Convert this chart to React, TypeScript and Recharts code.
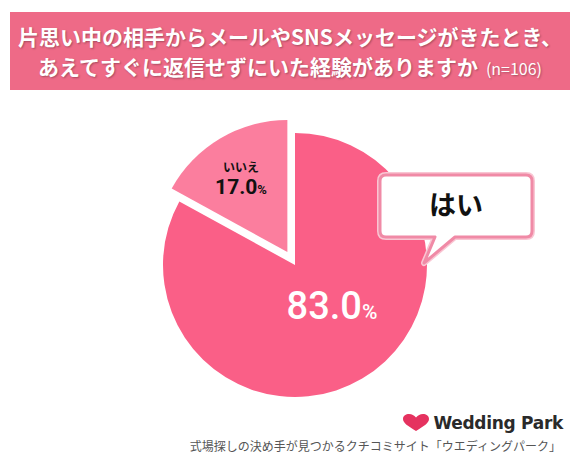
import { PieChart, Pie, Cell } from "recharts";

const categories = ["はい", "いいえ"];
const values = [83.0, 17.0];
const sampleSize = 106;
const titleLines = [
  "片思い中の相手からメールやSNSメッセージがきたとき、",
  "あえてすぐに返信せずにいた経験がありますか",
];
const footerText = "式場探しの決め手が見つかるクチコミサイト「ウエディングパーク」";

const YES_COLOR = "#fa5f87";
const NO_COLOR = "#fb7e9e";
const BANNER = "#ee6a87";
const FONT = "'Noto Sans CJK JP', 'Noto Sans', sans-serif";

const data = categories.map((name, i) => ({ name, value: values[i] }));

const CX = 290;
const CY = 260;
const R = 132;
const EXPLODE = 15;

// small slice is pulled out along its mid angle
const noMid = ((90 + (90 + (values[1] / 100) * 360)) / 2) * (Math.PI / 180);
const NO_CX = CX + EXPLODE * Math.cos(noMid);
const NO_CY = CY - EXPLODE * Math.sin(noMid);

function YesLabel(props: any) {
  const { cx, cy, index, value } = props;
  if (index !== 0) return null;
  const x0 = cx + 85;
  const y0 = cy - 90;
  const x1 = cx + 237;
  const y1 = cy - 28;
  const r = 6;
  const tl = cx + 140;
  const tr = cx + 160;
  const tipX = cx + 129;
  const tipY = cy - 2;
  const path = `M${x0 + r},${y0} H${x1 - r} Q${x1},${y0} ${x1},${y0 + r} V${y1 - r} Q${x1},${y1} ${x1 - r},${y1} H${tr} L${tipX},${tipY} L${tl},${y1} H${x0 + r} Q${x0},${y1} ${x0},${y1 - r} V${y0 + r} Q${x0},${y0} ${x0 + r},${y0} Z`;
  return (
    <g>
      <text
        x={cx + 37}
        y={cy + 54}
        textAnchor="middle"
        fill="#fff"
        fontFamily="Roboto, 'Noto Sans', sans-serif"
        fontWeight={500}
      >
        <tspan fontSize={38}>{value.toFixed(1)}</tspan>
        <tspan fontSize={21}>%</tspan>
      </text>
      <path d={path} fill="none" stroke="#f9c6d3" strokeWidth={6} strokeLinejoin="round" />
      <path d={path} fill="#fff" stroke="#f08aa6" strokeWidth={3} strokeLinejoin="round" />
      <text
        x={(x0 + x1) / 2}
        y={cy - 50}
        textAnchor="middle"
        fill="#111"
        fontSize={27}
        fontWeight={700}
        fontFamily={FONT}
      >
        {categories[0]}
      </text>
    </g>
  );
}

function NoLabel(props: any) {
  const { cx, cy, midAngle, outerRadius, index, value } = props;
  if (index !== 1) return null;
  const rad = (midAngle * Math.PI) / 180;
  const x = cx + outerRadius * 0.6 * Math.cos(rad) - 6;
  const y = cy - outerRadius * 0.6 * Math.sin(rad);
  return (
    <g fontFamily={FONT} fill="#111" textAnchor="middle">
      <text x={x} y={y - 12} fontSize={12} fontWeight={700}>
        {categories[1]}
      </text>
      <text x={x} y={y + 10} fontWeight={700} fontFamily="Roboto, 'Noto Sans', sans-serif">
        <tspan fontSize={21}>{value.toFixed(1)}</tspan>
        <tspan fontSize={13}>%</tspan>
      </text>
    </g>
  );
}

export default function App() {
  return (
    <div
      style={{
        position: "absolute",
        left: 0,
        top: 0,
        width: 580,
        height: 466,
        background: "#fff",
        fontFamily: FONT,
      }}
    >
      <div
        style={{
          position: "absolute",
          left: 10,
          top: 12,
          width: 560,
          height: 78,
          background: BANNER,
          color: "#fff",
          fontWeight: 700,
          fontSize: 21,
          lineHeight: "30px",
          textAlign: "center",
          paddingTop: 9,
          boxSizing: "border-box",
          textShadow: "1px 1px 2px rgba(0,0,0,0.3)",
        }}
      >
        <div>{titleLines[0]}</div>
        <div>
          {titleLines[1]}
          <span style={{ fontSize: 16, fontWeight: 400, marginLeft: 8 }}>
            (n={sampleSize})
          </span>
        </div>
      </div>

      <div style={{ position: "absolute", left: 0, top: 0 }}>
        <PieChart width={580} height={466}>
          <Pie
            data={data}
            dataKey="value"
            nameKey="name"
            cx={CX}
            cy={CY}
            outerRadius={R}
            startAngle={90}
            endAngle={-270}
            stroke="none"
            isAnimationActive={false}
            labelLine={false}
            label={YesLabel}
          >
            <Cell fill={YES_COLOR} />
            <Cell fill="none" />
          </Pie>
          <Pie
            data={data}
            dataKey="value"
            nameKey="name"
            cx={NO_CX}
            cy={NO_CY}
            outerRadius={R}
            startAngle={90}
            endAngle={-270}
            stroke="none"
            isAnimationActive={false}
            labelLine={false}
            label={NoLabel}
          >
            <Cell fill="none" />
            <Cell fill={NO_COLOR} />
          </Pie>
        </PieChart>
      </div>

      <div
        style={{
          position: "absolute",
          right: 17,
          top: 413,
          display: "flex",
          alignItems: "center",
          gap: 4,
        }}
      >
        <svg width={26} height={18} viewBox="0 0 26 18">
          <path
            d="M13 17 C5 12 0 9 0 5 C0 1.5 3 0 6 0 C9 0 11 1.5 13 3.5 C15 1.5 17 0 20 0 C23 0 26 1.5 26 5 C26 9 21 12 13 17 Z"
            fill="#e5325f"
          />
        </svg>
        <span
          style={{
            fontFamily: "'DejaVu Sans', Lato, sans-serif",
            fontWeight: 700,
            fontSize: 17,
            color: "#2a2a2a",
            letterSpacing: -0.3,
          }}
        >
          Wedding Park
        </span>
      </div>
      <div
        style={{
          position: "absolute",
          right: 19,
          top: 437,
          fontSize: 12,
          color: "#555",
          whiteSpace: "nowrap",
        }}
      >
        {footerText}
      </div>
    </div>
  );
}
